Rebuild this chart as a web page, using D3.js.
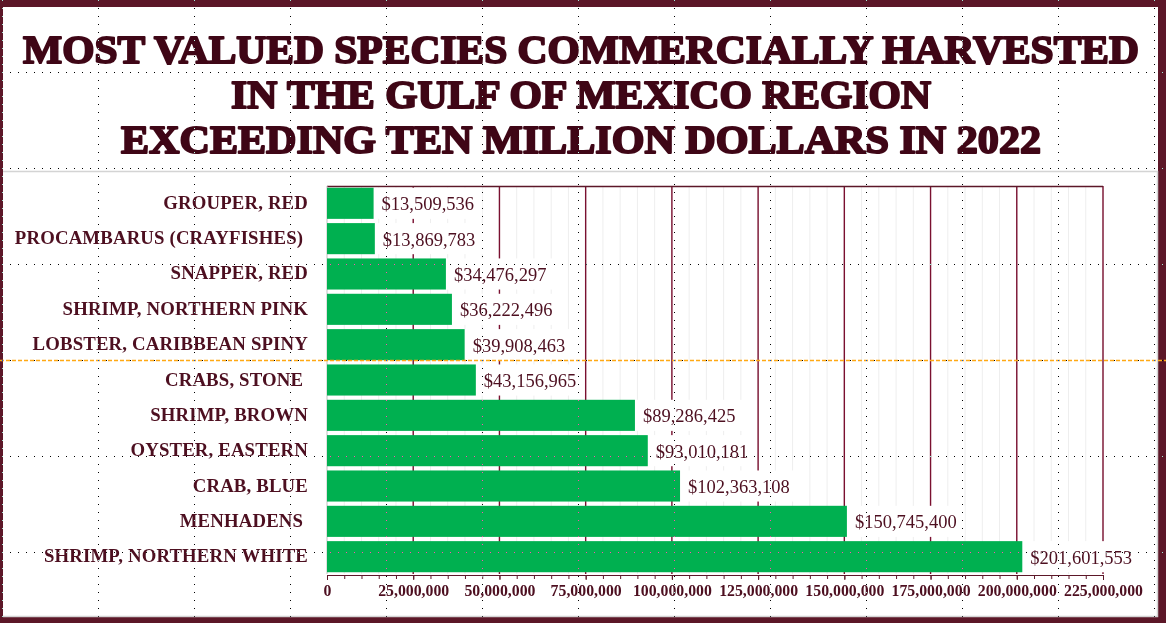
<!DOCTYPE html>
<html>
<head>
<meta charset="utf-8">
<script src="https://cdn.jsdelivr.net/npm/d3@7"></script>
<style>
  html, body { margin: 0; padding: 0; background: #fff; overflow: hidden; }
  svg { display: block; }
  .cat { font-family: "Liberation Serif", serif; font-weight: bold; font-size: 18.8px; letter-spacing: 0.15px; fill: #4d0f20; white-space: pre; }
  .val { font-family: "Liberation Serif", serif; font-size: 18.5px; fill: #4d0f20; }
  .tick-label { font-family: "Liberation Serif", serif; font-weight: bold; font-size: 15.8px; fill: #4d0f20; }
  .title { font-family: "Liberation Serif", serif; font-weight: bold; font-size: 41px; fill: #3f0616; stroke: #3f0616; stroke-width: 2px; stroke-linejoin: round; }
</style>
</head>
<body>
<svg id="chart"></svg>
<script>
var categories = [
  "GROUPER, RED",
  "PROCAMBARUS (CRAYFISHES) ",
  "SNAPPER, RED",
  "SHRIMP, NORTHERN PINK",
  "LOBSTER, CARIBBEAN SPINY",
  "CRABS, STONE ",
  "SHRIMP, BROWN",
  "OYSTER, EASTERN",
  "CRAB, BLUE",
  "MENHADENS ",
  "SHRIMP, NORTHERN WHITE"
];
var values = [
  13509536, 13869783, 34476297, 36222496, 39908463, 43156965,
  89286425, 93010181, 102363108, 150745400, 201601553
];
var majorTicks = [0, 25e6, 50e6, 75e6, 100e6, 125e6, 150e6, 175e6, 200e6, 225e6];
var minorTicks = d3.range(0, 225e6 + 1, 5e6);
var titleLines = [
  "MOST VALUED SPECIES COMMERCIALLY HARVESTED",
  "IN THE GULF OF MEXICO REGION",
  "EXCEEDING TEN MILLION DOLLARS IN 2022"
];

var width = 1166;
var height = 623;
var left = 327, right = 1103, top_ = 186, bottom = 574;
var maroon = "#5c1728";

var svg = d3.select("#chart").attr("width", width).attr("height", height);

// frame
svg.append("rect").attr("width", width).attr("height", height).attr("fill", maroon);
svg.append("rect").attr("x", 3).attr("y", 7).attr("width", 1155).attr("height", 610).attr("fill", "#fff");
svg.append("path")
  .attr("d", "M3,616.5H1157.5V171M3,171.5H1158")
  .attr("fill", "none").attr("stroke", "#d4d4d4").attr("stroke-width", 1.5);

// title
var titleBase = [63, 107.5, 153];
var titleWidth = [1116, 700, 920];
svg.selectAll(".title").data(titleLines).enter().append("text")
  .attr("class", "title")
  .attr("x", 581)
  .attr("y", (d, i) => titleBase[i])
  .attr("text-anchor", "middle")
  .attr("textLength", (d, i) => titleWidth[i])
  .attr("lengthAdjust", "spacingAndGlyphs")
  .text(d => d);

var xScale = d3.scaleLinear().domain([0, 225e6]).range([left, right]);
var yScale = d3.scaleBand().domain(categories).range([top_, bottom]).paddingInner(0.12).paddingOuter(0.05);

// grid
svg.selectAll(".minor").data(minorTicks).enter().append("line")
  .attr("x1", d => xScale(d)).attr("x2", d => xScale(d))
  .attr("y1", top_).attr("y2", bottom)
  .attr("stroke", "#eeeeee").attr("stroke-width", 1);
svg.selectAll(".major").data(majorTicks.slice(1)).enter().append("line")
  .attr("x1", d => xScale(d)).attr("x2", d => xScale(d))
  .attr("y1", top_).attr("y2", bottom)
  .attr("stroke", "#7a1030").attr("stroke-width", 1.4);
svg.append("line").attr("x1", left).attr("x2", right).attr("y1", top_ + 0.5).attr("y2", top_ + 0.5)
  .attr("stroke", maroon).attr("stroke-width", 1.4);
svg.append("line").attr("x1", left).attr("x2", left).attr("y1", top_).attr("y2", bottom)
  .attr("stroke", "#c8c8c8").attr("stroke-width", 1);

// value labels sit on white boxes that hide the grid
var valFormat = d3.format("$,");
var labels = svg.append("g").selectAll("g").data(values).enter().append("g");
var boxes = labels.append("rect").attr("fill", "#fff");
var valText = labels.append("text")
  .attr("class", "val")
  .attr("x", d => xScale(d) + 8)
  .attr("y", (d, i) => yScale(categories[i]) + yScale.bandwidth() / 2 + 7)
  .text(d => valFormat(d));
boxes
  .attr("x", d => xScale(d))
  .attr("y", (d, i) => yScale(categories[i]))
  .attr("height", yScale.bandwidth())
  .attr("width", function (d, i) { return valText.nodes()[i].getComputedTextLength() + 16; });

// bars
svg.selectAll(".bar").data(values).enter().append("rect")
  .attr("class", "bar")
  .attr("x", xScale(0))
  .attr("y", (d, i) => yScale(categories[i]))
  .attr("width", d => xScale(d) - xScale(0))
  .attr("height", yScale.bandwidth())
  .attr("fill", "#00b050");

// category labels
svg.selectAll(".cat").data(categories).enter().append("text")
  .attr("class", "cat")
  .attr("x", 308)
  .attr("y", d => yScale(d) + yScale.bandwidth() / 2 + 5.5)
  .attr("text-anchor", "end")
  .text(d => d);

// bottom axis
var minorAxis = d3.axisBottom(xScale).tickValues(minorTicks).tickSize(4).tickFormat("");
var majorAxis = d3.axisBottom(xScale).tickValues(majorTicks).tickSize(5).tickPadding(16)
  .tickFormat(d3.format(","));
var gMinor = svg.append("g").attr("transform", "translate(0," + (bottom + 1) + ")").call(minorAxis);
var gMajor = svg.append("g").attr("transform", "translate(0," + (bottom + 1) + ")").call(majorAxis);
gMinor.selectAll("path, line").attr("stroke", maroon);
gMajor.selectAll("path, line").attr("stroke", maroon);
gMajor.selectAll("text").attr("class", "tick-label").attr("fill", null).attr("dy", null);

// orange guide with its sparser dots, then the dotted screen grid on top
svg.append("line").attr("x1", 0).attr("x2", width).attr("y1", 360.5).attr("y2", 360.5)
  .attr("stroke", "#ffa914").attr("stroke-width", 1.3).attr("stroke-dasharray", "4 2");
svg.append("line").attr("x1", 10).attr("x2", width).attr("y1", 360.5).attr("y2", 360.5)
  .attr("stroke", "#000").attr("stroke-dasharray", "1 23");

var guides = svg.append("g").style("mix-blend-mode", "difference");
guides.selectAll(".gv").data(d3.range(98.5 - 96, width, 96)).enter().append("line")
  .attr("x1", d => d).attr("x2", d => d).attr("y1", 0).attr("y2", height)
  .attr("stroke", "#fff").attr("stroke-dasharray", "1 7");
guides.selectAll(".gh").data(d3.range(72.5, height, 96).filter(d => d !== 360.5)).enter().append("line")
  .attr("x1", 2).attr("x2", width).attr("y1", d => d).attr("y2", d => d)
  .attr("stroke", "#fff").attr("stroke-dasharray", "1 7");
</script>
</body>
</html>
